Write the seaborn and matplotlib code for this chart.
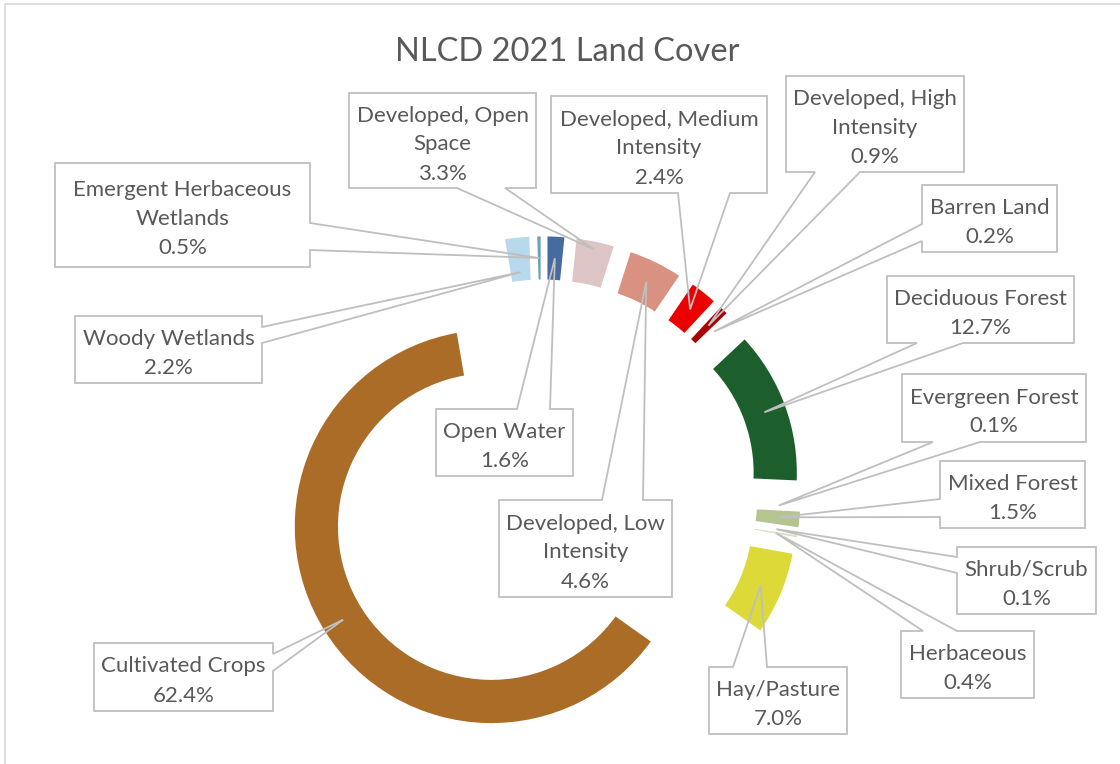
import textwrap

import matplotlib
matplotlib.use("Agg")
import matplotlib.pyplot as plt
from matplotlib.patches import Polygon
from matplotlib.lines import Line2D
import numpy as np
import seaborn as sns

# ---- data -------------------------------------------------------------
title = "NLCD 2021 Land Cover"
categories = [
    "Open Water",
    "Developed, Open Space",
    "Developed, Low Intensity",
    "Developed, Medium Intensity",
    "Developed, High Intensity",
    "Barren Land",
    "Deciduous Forest",
    "Evergreen Forest",
    "Mixed Forest",
    "Shrub/Scrub",
    "Herbaceous",
    "Hay/Pasture",
    "Cultivated Crops",
    "Woody Wetlands",
    "Emergent Herbaceous Wetlands",
]
percent = [1.6, 3.3, 4.6, 2.4, 0.9, 0.2, 12.7, 0.1, 1.5, 0.1, 0.4, 7.0, 62.4, 2.2, 0.5]
colors = [
    "#466b9f", "#dec5c5", "#d99282", "#eb0000", "#ab0000", "#b3ac9f",
    "#1c5f2c", "#68ab5f", "#b5c58f", "#ccb879", "#dfdfc2", "#dcd939",
    "#ab6c28", "#b8d9eb", "#6c9fb8",
]

# ---- callout layout (pixels from the top-left corner) -----------------
# box x0, y0, x1, y1, side carrying the pointer, pointer base start/end,
# optional anchor radius in pixels (default: middle of the ring)
callouts = [
    (436, 409, 573, 476, "top", 517, 550, None),
    (349, 93, 536, 188, "bottom", 457, 505, 189),
    (499, 500, 672, 597, "top", 602, 643, None),
    (551, 96, 767, 193, "bottom", 678, 730, None),
    (786, 76, 964, 172, "bottom", 815, 860, None),
    (922, 185, 1057, 252, "left", 224, 241, None),
    (887, 276, 1074, 343, "bottom", 917, 963, None),
    (902, 374, 1086, 442, "bottom", 933, 980, None),
    (940, 461, 1085, 528, "left", 499, 517, None),
    (957, 547, 1096, 614, "left", 557, 573, None),
    (901, 631, 1034, 698, "top", 923, 957, None),
    (709, 667, 847, 734, "top", 733, 767, None),
    (94, 643, 273, 711, "right", 654, 671, None),
    (75, 316, 262, 383, "right", 327, 343, 162),
    (55, 163, 310, 267, "right", 223, 250, None),
]

TEXT = "#595959"
LINE = "#BFBFBF"

sns.set_theme(style="white")
plt.rcParams["font.family"] = ["Lato", "DejaVu Sans"]

W, H, DPI = 1120, 764, 100
CX, CY, S = 543, 494, 198          # ring centre and outer radius in pixels
EXPLODE_PX, RING_PX = 61, 46

fig = plt.figure(figsize=(W / DPI, H / DPI), dpi=DPI)
fig.patch.set_facecolor("white")
ax = fig.add_axes([0, 0, 1, 1])

wedges, _ = ax.pie(
    percent,
    colors=colors,
    startangle=90,
    counterclock=False,
    radius=1.0,
    explode=[EXPLODE_PX / S] * len(percent),
    wedgeprops=dict(width=RING_PX / S, edgecolor="white", linewidth=2.0),
)
ax.set_aspect("auto")
ax.set_xlim(-CX / S, (W - CX) / S)
ax.set_ylim((CY - H) / S, CY / S)
ax.axis("off")


def px(x, y):
    return ((x - CX) / S, (CY - y) / S)


for wedge, name, val, (x0, y0, x1, y1, side, a, b, r_px) in zip(
        wedges, categories, percent, callouts):
    mid = np.deg2rad(0.5 * (wedge.theta1 + wedge.theta2))
    r = (r_px / S) if r_px else (wedge.r - wedge.width / 2)
    apex = (wedge.center[0] + r * np.cos(mid), wedge.center[1] + r * np.sin(mid))

    tl, tr, br, bl = px(x0, y0), px(x1, y0), px(x1, y1), px(x0, y1)
    if side == "top":
        pts = [tl, px(a, y0), apex, px(b, y0), tr, br, bl]
    elif side == "right":
        pts = [tl, tr, px(x1, a), apex, px(x1, b), br, bl]
    elif side == "bottom":
        pts = [tl, tr, br, px(b, y1), apex, px(a, y1), bl]
    else:
        pts = [tl, tr, br, bl, px(x0, b), apex, px(x0, a)]
    ax.add_patch(Polygon(pts, closed=True, facecolor="none", edgecolor=LINE,
                         linewidth=1.3, joinstyle="miter", zorder=3))

    lines = textwrap.fill(name, width=20).split("\n") + [f"{val:.1f}%"]
    n = len(lines)
    cxb = (x0 + x1) / 2
    cyb = (y0 + y1) / 2
    for k, line in enumerate(lines):
        by = cyb + 10 + (k - (n - 1) / 2) * 29
        ax.text(*px(cxb, by), line, ha="center", va="baseline",
                fontsize=16, color=TEXT, zorder=4)

fig.text(567 / W, 1 - 61 / H, title, ha="center", va="baseline",
         fontsize=23.5, color=TEXT)

# chart frame
fig.add_artist(Line2D([5 / W, 5 / W], [0, 1 - 4 / H], transform=fig.transFigure,
                      color="#D9D9D9", linewidth=1.2))
fig.add_artist(Line2D([5 / W, 1], [1 - 4 / H, 1 - 4 / H], transform=fig.transFigure,
                      color="#D9D9D9", linewidth=1.2))

fig.savefig("out.png", dpi=DPI, facecolor="white")
